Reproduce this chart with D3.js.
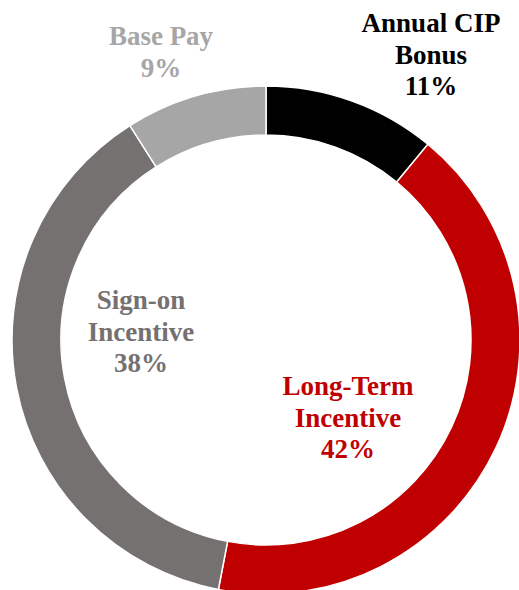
<!DOCTYPE html>
<html>
<head>
<meta charset="utf-8">
<script src="https://cdn.jsdelivr.net/npm/d3@7"></script>
<style>
  html, body { margin: 0; padding: 0; background: #fff; }
  svg { display: block; }
  .lbl { font-family: "Times New Roman", "Liberation Serif", Tinos, serif; font-weight: bold; font-size: 27px; }
</style>
</head>
<body>
<div id="chart"></div>
<script>
const categories = ["Annual CIP Bonus", "Long-Term Incentive", "Sign-on Incentive", "Base Pay"];
const values = [11, 42, 38, 9];
const colors = ["#000000", "#C00000", "#767171", "#A6A6A6"];
const labelLines = [
  ["Annual CIP", "Bonus", "11%"],
  ["Long-Term", "Incentive", "42%"],
  ["Sign-on", "Incentive", "38%"],
  ["Base Pay", "9%"]
];

const width = 519, height = 590;
const cx = 266, cy = 340;
const outerR = 254, innerR = 205;

// label anchors (x centre, first baseline), page coords
const labelAt = [[431, 32], [348, 395], [141, 309], [161, 45]];

const svg = d3.select("#chart").append("svg")
  .attr("width", width)
  .attr("height", height);

const pie = d3.pie().sort(null).value(d => d);
const arc = d3.arc().innerRadius(innerR).outerRadius(outerR);

const arcs = pie(values);

svg.append("g")
  .attr("transform", `translate(${cx},${cy})`)
  .selectAll("path")
  .data(arcs)
  .join("path")
  .attr("d", arc)
  .attr("fill", (d, i) => colors[i])
  .attr("stroke", "#fff")
  .attr("stroke-width", 1.5);

const lh = 31.5;
const labels = svg.append("g")
  .selectAll("text")
  .data(categories)
  .join("text")
  .attr("class", "lbl")
  .attr("text-anchor", "middle")
  .attr("fill", (d, i) => colors[i])
  .attr("x", (d, i) => labelAt[i][0])
  .attr("y", (d, i) => labelAt[i][1]);

labels.selectAll("tspan")
  .data((d, i) => labelLines[i].map(t => ({ t, i })))
  .join("tspan")
  .attr("x", d => labelAt[d.i][0])
  .attr("dy", (d, j) => j === 0 ? 0 : lh)
  .text(d => d.t);
</script>
</body>
</html>
